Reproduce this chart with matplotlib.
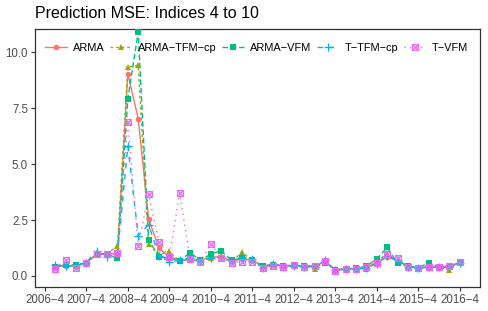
import matplotlib
matplotlib.use("Agg")
import matplotlib.pyplot as plt
from matplotlib.path import Path

plt.rcParams["font.family"] = ["Liberation Sans", "DejaVu Sans"]

TITLE = "Prediction MSE: Indices 4 to 10"
SERIES = ["ARMA", "ARMA−TFM−cp", "ARMA−VFM", "T−TFM−cp", "T−VFM"]
TICK_LABELS = [f"{y}−4" for y in range(2006, 2017)]
TICK_POS = list(range(-1, 40, 4))

arma = [0.42, 0.45, 0.45, 0.60, 0.95, 0.98, 1.00, 9.04, 7.03, 2.55,
        1.25, 0.85, 0.72, 0.70, 0.70, 0.85, 0.85, 0.68, 0.75, 0.70,
        0.45, 0.50, 0.45, 0.48, 0.45, 0.45, 0.62, 0.28, 0.32, 0.35,
        0.40, 0.60, 0.84, 0.68, 0.45, 0.35, 0.38, 0.40, 0.45, 0.60]
arma_tfm_cp = [0.40, 0.50, 0.45, 0.60, 1.00, 1.00, 1.34, 9.33, 9.42, 1.42,
               0.95, 1.10, 0.65, 0.80, 0.70, 0.80, 0.90, 0.65, 1.06, 0.70,
               0.42, 0.55, 0.45, 0.45, 0.45, 0.33, 0.65, 0.27, 0.30, 0.33,
               0.30, 0.65, 1.00, 0.65, 0.40, 0.35, 0.50, 0.38, 0.28, 0.60]
arma_vfm = [0.38, 0.48, 0.50, 0.60, 1.00, 0.98, 0.79, 7.93, 10.90, 1.61,
            0.86, 0.80, 0.68, 1.04, 0.70, 0.98, 1.13, 0.70, 0.80, 0.70,
            0.45, 0.50, 0.45, 0.45, 0.45, 0.42, 0.60, 0.28, 0.30, 0.35,
            0.45, 0.75, 1.28, 0.57, 0.45, 0.35, 0.60, 0.40, 0.40, 0.62]
t_tfm_cp = [0.49, 0.45, 0.45, 0.60, 1.12, 0.86, 1.00, 5.81, 1.80, 2.30,
            0.90, 0.64, 0.70, 0.80, 0.65, 0.80, 0.85, 0.65, 0.83, 0.75,
            0.35, 0.55, 0.42, 0.45, 0.42, 0.40, 0.70, 0.25, 0.30, 0.33,
            0.35, 0.55, 0.90, 0.70, 0.42, 0.35, 0.42, 0.40, 0.42, 0.60]
t_vfm = [0.33, 0.72, 0.37, 0.60, 1.00, 1.00, 1.04, 6.87, 1.36, 3.65,
         1.53, 0.83, 3.72, 0.75, 0.64, 1.43, 0.82, 0.60, 0.63, 0.63,
         0.37, 0.45, 0.39, 0.48, 0.42, 0.43, 0.68, 0.24, 0.30, 0.33,
         0.42, 0.60, 0.98, 0.79, 0.42, 0.37, 0.42, 0.40, 0.45, 0.63]

VALUES = [arma, arma_tfm_cp, arma_vfm, t_tfm_cp, t_vfm]

# square with a cross, like ggplot shape 7
SQ_CROSS = Path(
    [(-1, -1), (1, -1), (1, 1), (-1, 1), (-1, -1), (-1, -1), (1, 1), (-1, 1), (1, -1)],
    [Path.MOVETO, Path.LINETO, Path.LINETO, Path.LINETO, Path.CLOSEPOLY,
     Path.MOVETO, Path.LINETO, Path.MOVETO, Path.LINETO],
)

COLORS = ["#F8766D", "#A3A500", "#00BF7D", "#00B0F6", "#E76BF3"]
LINESTYLES = ["-", (0, (2, 2)), (0, (4, 2)), (0, (4, 4)), (0, (1, 3))]
MARKERS = ["o", "^", "s", "+", SQ_CROSS]
MSIZES = [4.0, 4.6, 4.0, 6, 4.2]

fig = plt.figure(figsize=(4.88, 3.11), dpi=100)
ax = fig.add_axes([35 / 488, 1 - 286.7 / 311, 445 / 488, 257.7 / 311])

x = list(range(len(arma)))
handles = []
for name, vals, c, ls in zip(SERIES, VALUES, COLORS, LINESTYLES):
    ax.plot(x, vals, color=c, linestyle=ls, linewidth=1.0, zorder=2)
for name, vals, c, ls, m, ms in zip(SERIES, VALUES, COLORS, LINESTYLES, MARKERS, MSIZES):
    filled = m in ("o", "^", "s")
    ax.plot(x, vals, linestyle="none", marker=m, markersize=ms, color=c,
            markerfacecolor=c if filled else "none", markeredgewidth=0 if filled else 0.9,
            zorder=3)
    h, = ax.plot([], [], color=c, linestyle=ls, linewidth=1.0, marker=m, markersize=ms,
                 markerfacecolor=c if filled else "none",
                 markeredgewidth=0 if filled else 0.9, label=name)
    handles.append(h)

ax.set_xlim(-1.95, 40.95)
ax.set_ylim(-0.48, 11.04)
ax.set_xticks(TICK_POS)
ax.set_xticklabels(TICK_LABELS)
ax.set_yticks([0, 2.5, 5, 7.5, 10])
ax.set_yticklabels(["0.0", "2.5", "5.0", "7.5", "10.0"])
ax.tick_params(colors="#333333", labelcolor="#4D4D4D", labelsize=8.3, length=3, width=0.8, pad=2)
for s in ax.spines.values():
    s.set_color("#333333")
    s.set_linewidth(0.9)

ax.legend(handles=handles, loc="upper left", bbox_to_anchor=(0.005, 0.975), ncol=5,
          frameon=False, fontsize=7.9, handlelength=2.0, handletextpad=0.55,
          columnspacing=0.5, borderaxespad=0.3)

fig.text(35 / 488, 1 - 13.5 / 311, TITLE, fontsize=11.5, va="center", ha="left", color="black")

fig.savefig("out.png", dpi=100)
